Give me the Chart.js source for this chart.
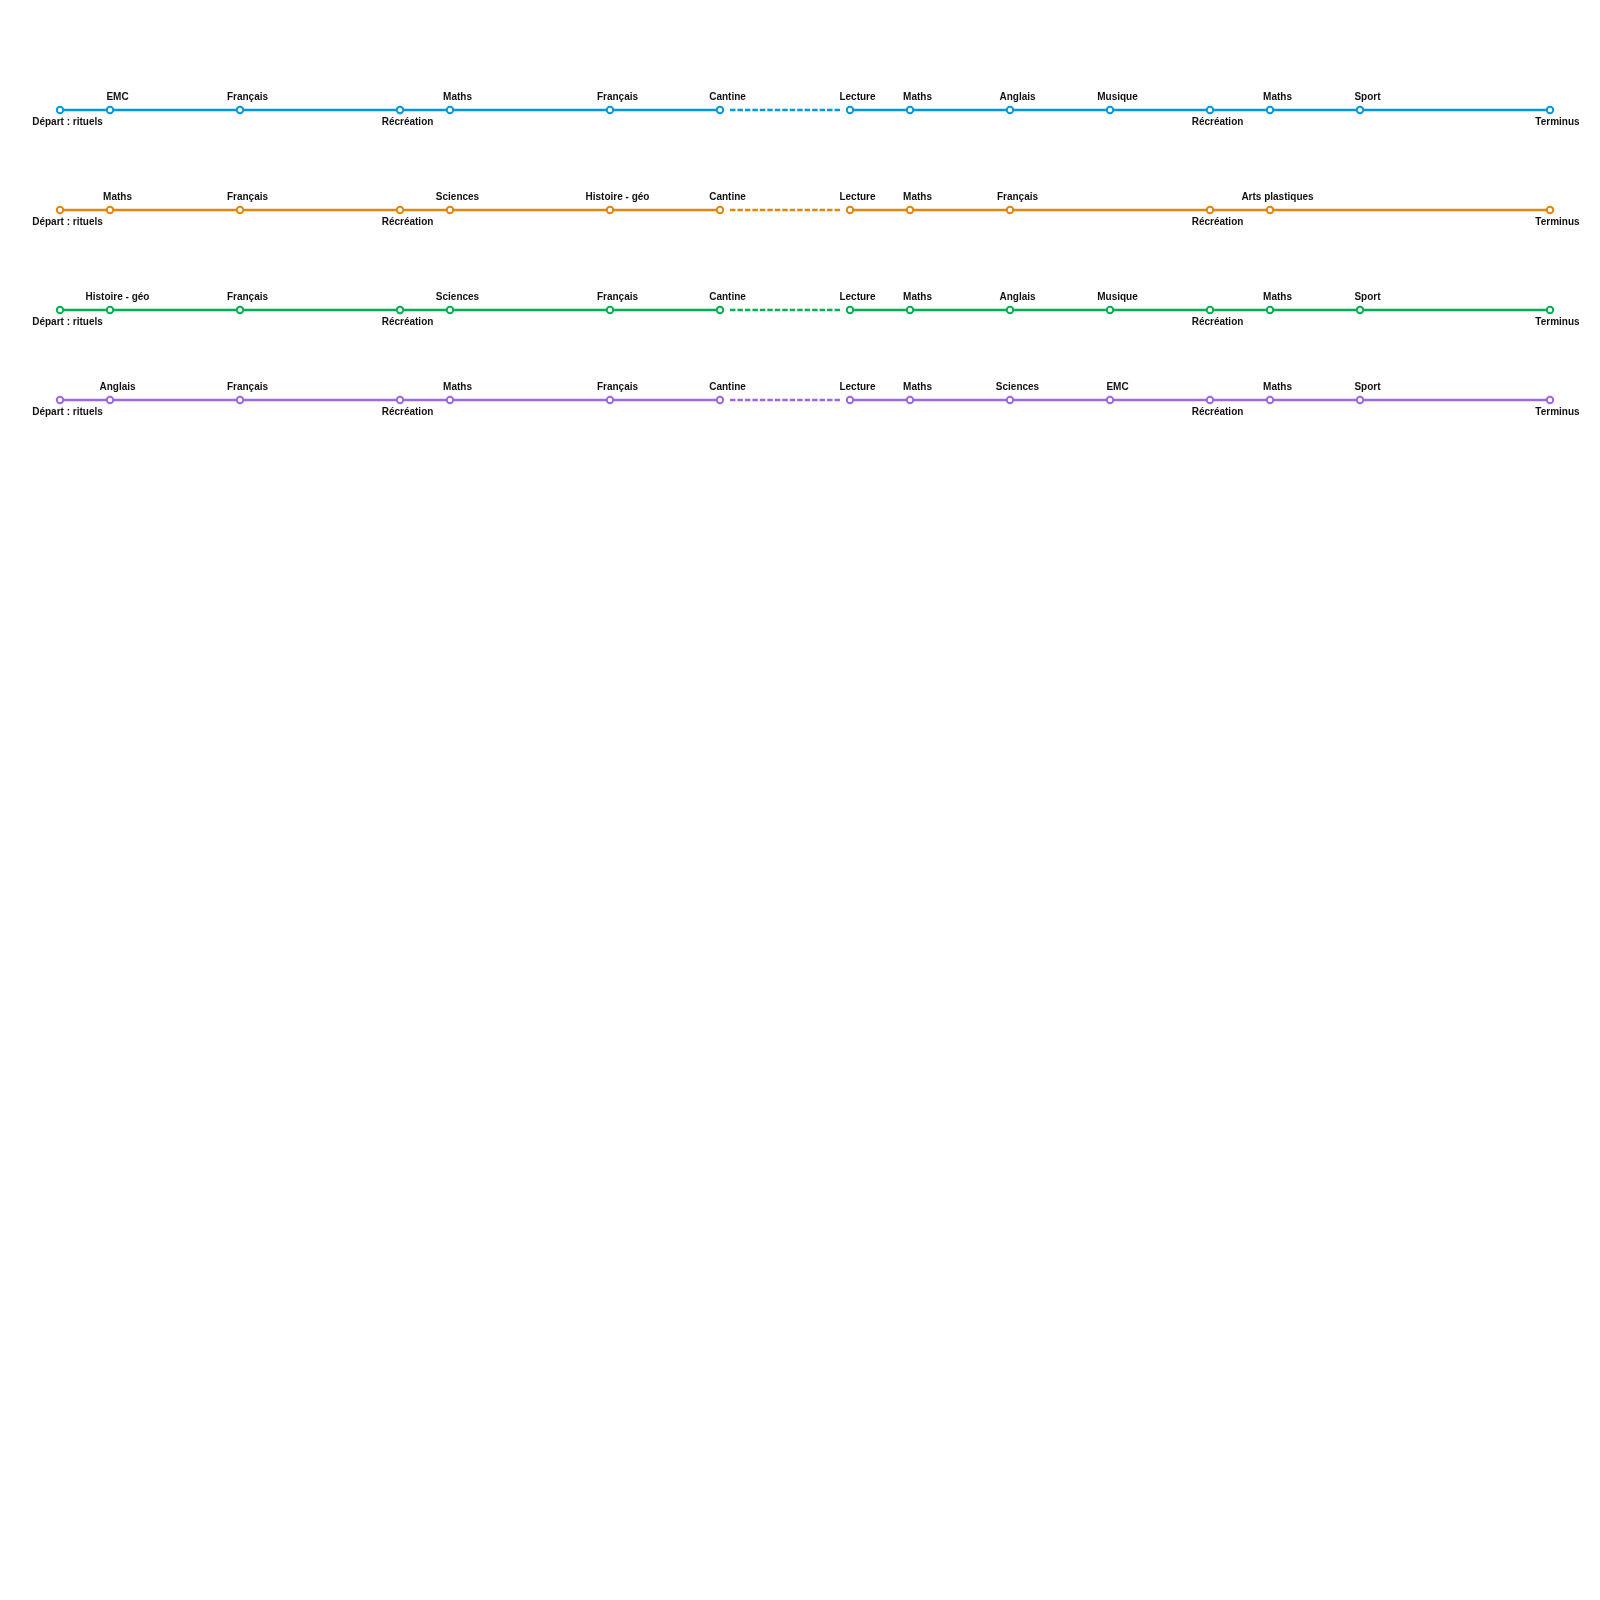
<!DOCTYPE html>
<html>
<head>
<meta charset="utf-8">
<title>Emploi du temps</title>
<script src="https://cdn.jsdelivr.net/npm/chart.js@4.4.0/dist/chart.umd.min.js"></script>
<style>
	body { margin: 0; background: #fff; }
	#page { position: relative; width: 1600px; height: 1600px; }
	.row { position: absolute; left: 0; width: 1600px; height: 60px; }
</style>
</head>
<body>
<div id="page"></div>
<script>
// one line per day, stops and their start times
var stops1 = ['Départ : rituels', 'EMC', 'Français', 'Récréation', 'Maths', 'Français', 'Cantine', 'Lecture', 'Maths', 'Anglais', 'Musique', 'Récréation', 'Maths', 'Sport', 'Terminus'];
var times1 = ['8:30', '8:45', '9:24', '10:12', '10:27', '11:15', '11:48', '12:27', '12:45', '13:15', '13:45', '14:15', '14:33', '15:00', '15:57'];

var stops2 = ['Départ : rituels', 'Maths', 'Français', 'Récréation', 'Sciences', 'Histoire - géo', 'Cantine', 'Lecture', 'Maths', 'Français', 'Récréation', 'Arts plastiques', 'Terminus'];
var times2 = ['8:30', '8:45', '9:24', '10:12', '10:27', '11:15', '11:48', '12:27', '12:45', '13:15', '14:15', '14:33', '15:57'];

var stops3 = ['Départ : rituels', 'Histoire - géo', 'Français', 'Récréation', 'Sciences', 'Français', 'Cantine', 'Lecture', 'Maths', 'Anglais', 'Musique', 'Récréation', 'Maths', 'Sport', 'Terminus'];
var times3 = ['8:30', '8:45', '9:24', '10:12', '10:27', '11:15', '11:48', '12:27', '12:45', '13:15', '13:45', '14:15', '14:33', '15:00', '15:57'];

var stops4 = ['Départ : rituels', 'Anglais', 'Français', 'Récréation', 'Maths', 'Français', 'Cantine', 'Lecture', 'Maths', 'Sciences', 'EMC', 'Récréation', 'Maths', 'Sport', 'Terminus'];
var times4 = ['8:30', '8:45', '9:24', '10:12', '10:27', '11:15', '11:48', '12:27', '12:45', '13:15', '13:45', '14:15', '14:33', '15:00', '15:57'];

var belowNames = ['Départ : rituels', 'Récréation', 'Terminus'];

// layout
var lineColors = ['#0098dd', '#e0870a', '#00b050', '#9b68e8'];
var rowY = [110, 210, 310, 400];

function toMinutes(t) {
	var p = t.split(':');
	return parseInt(p[0], 10) * 60 + parseInt(p[1], 10);
}

// dashed lunch segment : 10px free each side, dashes stretched to fill
function lunchDash(len) {
	var gap = 2, margin = 10;
	var inner = len - 2 * margin;
	var n = Math.max(1, Math.round((inner + gap) / 7.5));
	var dash = (inner - gap * (n - 1)) / n;
	var pattern = [0, margin];
	for (var i = 0; i < n; i++) {
		pattern.push(dash, i < n - 1 ? gap : margin);
	}
	return pattern;
}

var stationLabels = {
	id: 'stationLabels',
	afterDatasetsDraw: function(chart) {
		var ctx = chart.ctx;
		var meta = chart.getDatasetMeta(0);
		var data = chart.data.datasets[0].data;
		ctx.save();
		ctx.font = 'bold 10px "Liberation Sans", Arial, Helvetica, sans-serif';
		ctx.fillStyle = '#111';
		ctx.textAlign = 'center';
		ctx.textBaseline = 'alphabetic';
		for (var i = 0; i < meta.data.length; i++) {
			var pt = meta.data[i];
			var name = data[i].name;
			if (belowNames.indexOf(name) >= 0) {
				ctx.fillText(name, pt.x + 7.5, pt.y + 14.5);
			} else {
				ctx.fillText(name, pt.x + 7.5, pt.y - 10.5);
			}
		}
		ctx.restore();
	}
};

var lines = [
	{ stops: stops1, times: times1 },
	{ stops: stops2, times: times2 },
	{ stops: stops3, times: times3 },
	{ stops: stops4, times: times4 }
];

var xMin = toMinutes(times1[0]);
var xMax = toMinutes(times1[times1.length - 1]);
var page = document.getElementById('page');

lines.forEach(function(line, r) {
	var div = document.createElement('div');
	div.className = 'row';
	div.style.top = (rowY[r] - 30) + 'px';
	var canvas = document.createElement('canvas');
	div.appendChild(canvas);
	page.appendChild(div);

	var points = [];
	for (var i = 0; i < line.stops.length; i++) {
		points.push({ x: toMinutes(line.times[i]), y: 0, name: line.stops[i] });
	}

	new Chart(canvas, {
		type: 'line',
		data: {
			datasets: [{
				data: points,
				borderColor: lineColors[r],
				borderWidth: 2.5,
				pointRadius: 3.2,
				pointHoverRadius: 3.2,
				pointBorderWidth: 2,
				pointBorderColor: lineColors[r],
				pointBackgroundColor: '#fff',
				fill: false,
				tension: 0,
				clip: false,
				segment: {
					borderDash: function(c) {
						return line.stops[c.p0DataIndex] === 'Cantine' ? lunchDash(c.p1.x - c.p0.x) : undefined;
					}
				}
			}]
		},
		options: {
			responsive: true,
			maintainAspectRatio: false,
			animation: false,
			events: [],
			layout: { padding: { left: 60, right: 50, top: 0, bottom: 0 } },
			scales: {
				x: { type: 'linear', min: xMin, max: xMax, display: false },
				y: { min: -1, max: 1, display: false }
			},
			plugins: {
				legend: { display: false },
				tooltip: { enabled: false }
			}
		},
		plugins: [stationLabels]
	});
});
</script>
</body>
</html>
